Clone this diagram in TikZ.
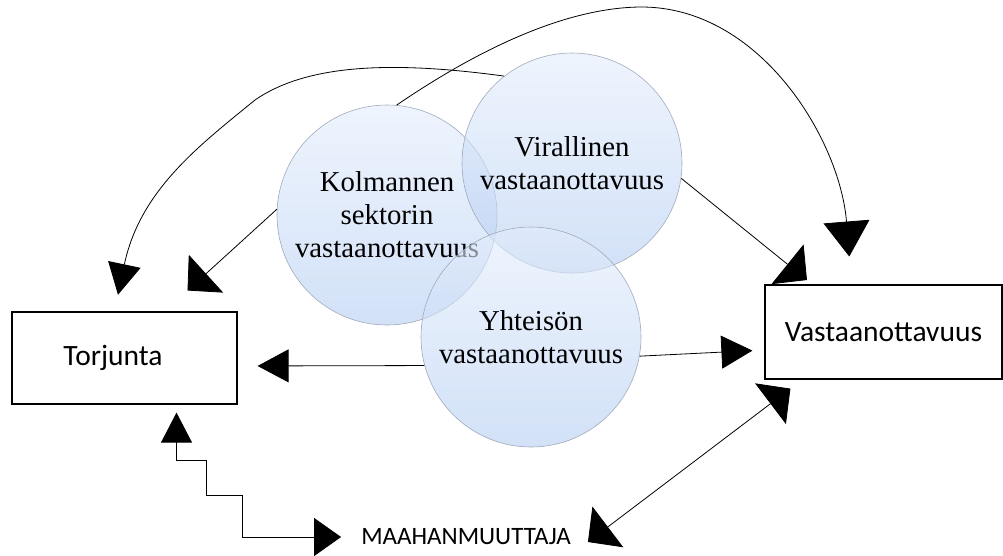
\documentclass[tikz,border=0pt]{standalone}
\usepackage{fontspec}
\setmainfont{Liberation Serif}
\newfontfamily\calibri{Carlito}
\usepackage{tikz}
\usepackage{xcolor}
\usetikzlibrary{arrows.meta}

\definecolor{spheretop}{HTML}{E3EDFC}
\definecolor{spherebot}{HTML}{B4CDF2}
\definecolor{sphereline}{HTML}{A0AABB}

\tikzset{
    sphere/.style={circle, draw=sphereline, line width=0.6pt, minimum size=220pt, inner sep=0pt,
        top color=spheretop, bottom color=spherebot, fill opacity=0.6, draw opacity=1, text opacity=1,
        align=center, font=\fontsize{28.8}{33}\selectfont},
    box/.style={draw, line width=1.2pt, font=\calibri\fontsize{29.5}{34}\selectfont},
    arr/.style={-{Triangle[length=31pt,width=33pt]}, line width=0.8pt},
    arrd/.style={-{Triangle[length=25pt,width=51pt]}, line width=0.8pt}
}

\begin{document}
\begin{tikzpicture}[x=1pt, y=-1pt]
        \useasboundingbox (0,0) rectangle (1003,555);

        \node[sphere] (kol) at (387,215) {Kolmannen\\sektorin\\vastaanottavuus};
        \node[sphere] (vir) at (572,163) {Virallinen\\vastaanottavuus};
        \node[sphere] (yht) at (531,337) {Yhteisön\\vastaanottavuus};

        \node[box, minimum width=225pt, minimum height=92pt] (tor) at (124.5,358) {\hspace*{-23pt}Torjunta};
        \node[box, minimum width=237pt, minimum height=94pt] (vas) at (883.5,332) {Vastaanottavuus};
        \node[inner sep=0pt, font=\calibri\fontsize{25}{30}\selectfont] (maa) at (466,537) {MAAHANMUUTTAJA};

        \draw[arr, shorten >=20pt] (yht.195) to ([yshift=-8pt]tor.east);
        \draw[arr, shorten >=12pt] (yht.-10) to ([yshift=-18pt]vas.west);
        \draw[arrd, shorten >=7pt] (vir.-8) to ([xshift=48pt]vas.north west);
        \draw[arrd, shorten >=31pt] (kol.177) to ([xshift=-73pt]tor.north east);

        \draw[arr, shorten >=17pt] (vir.128) .. controls (400,62) and (310,62) .. (255,100)
            .. controls (200,145) and (140,190) .. ([xshift=-10pt]tor.north);
        \draw[arr, -{Triangle[length=35pt,width=46pt]}, shorten >=28pt] (kol.85) .. controls (470,55) and (560,8) .. (640,7)
            .. controls (760,6) and (840,140) .. ([xshift=-32pt]vas.north);

        \draw[arr, {Triangle[length=30pt,width=31pt]}-{Triangle[length=27pt,width=38pt]}, shorten <=8pt, shorten >=20pt]
            ([xshift=52pt]tor.south) -- ++(0,56) -- ++(30,0) -- ++(0,35) -- ++(36,0) |- (maa.west);
        \draw[arrd, {Triangle[length=25pt,width=51pt]}-{Triangle[length=25pt,width=51pt]}]
            ([shift={(17pt,-5pt)}]maa.east) to ([shift={(26pt,-9pt)}]vas.south west);
    \end{tikzpicture}
\end{document}
